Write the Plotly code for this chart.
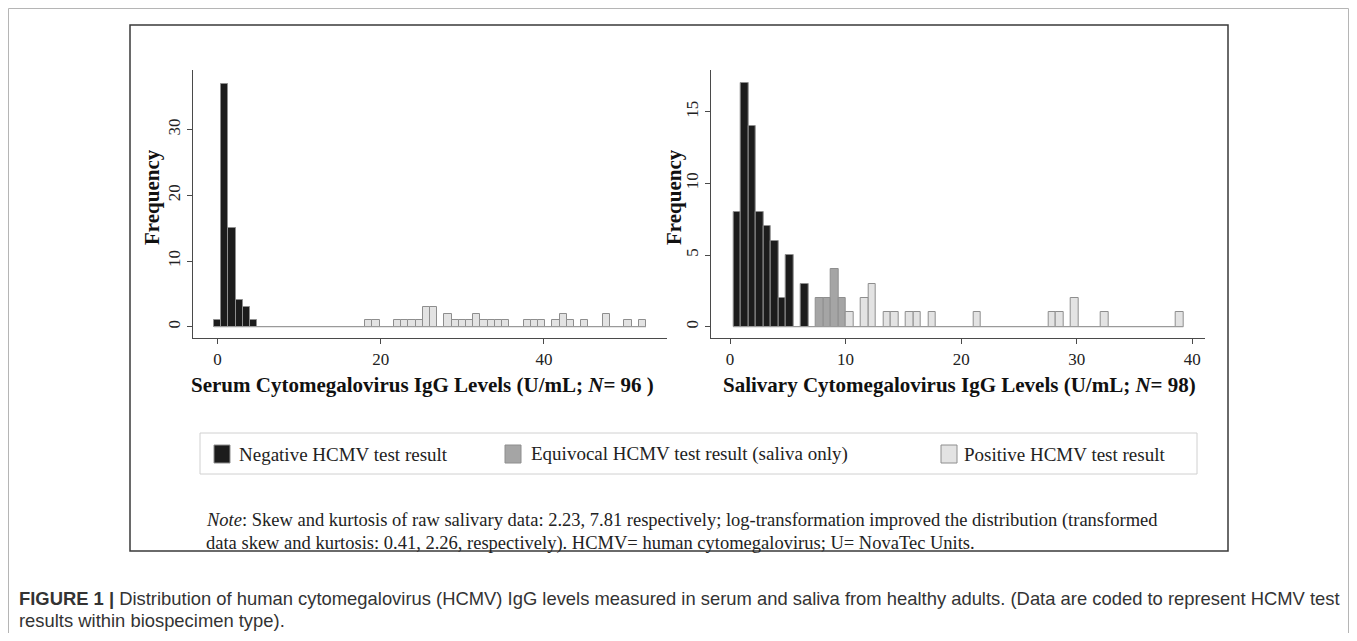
import plotly.graph_objects as go

# page is 1357x641; the plot div sits inside the default 8px body margin
PAGE_OFF = 8
W, H = 1357 - 2 * PAGE_OFF, 641 - 2 * PAGE_OFF

# ---------------- data ----------------
serum_bin_start = -0.43
serum_bin_width = 0.882
serum_counts = [1, 37, 15, 4, 3, 1, 0, 0, 0, 0,
                0, 0, 0, 0, 0, 0, 0, 0, 0, 0,
                0, 1, 1, 0, 0, 1, 1, 1, 1, 3,
                3, 0, 2, 1, 1, 1, 2, 1, 1, 1,
                1, 0, 0, 1, 1, 1, 0, 1, 2, 1,
                0, 1, 0, 0, 2, 0, 0, 1, 0, 1]
serum_result = ["Negative"] * 21 + ["Positive"] * 39

saliva_bin_start = 0.285
saliva_bin_width = 0.649
saliva_counts = [8, 17, 14, 8, 7, 6, 2, 5, 0, 3,
                 0, 2, 2, 4, 2, 1, 0, 2, 3, 0,
                 1, 1, 0, 1, 1, 0, 1, 0, 0, 0,
                 0, 0, 1, 0, 0, 0, 0, 0, 0, 0,
                 0, 0, 1, 1, 0, 2, 0, 0, 0, 1,
                 0, 0, 0, 0, 0, 0, 0, 0, 0, 1]
saliva_result = ["Negative"] * 11 + ["Equivocal"] * 4 + ["Positive"] * 45

result_colors = {"Negative": "#1c1c1c", "Equivocal": "#a5a5a5", "Positive": "#e3e3e3"}
legend_labels = {"Negative": "Negative HCMV test result",
                 "Equivocal": "Equivocal HCMV test result (saliva only)",
                 "Positive": "Positive HCMV test result"}

serum_xticks = [0, 20, 40]
saliva_xticks = [0, 10, 20, 30, 40]
serum_yticks = [0, 10, 20, 30]
saliva_yticks = [0, 5, 10, 15]

serum_title = "Serum Cytomegalovirus IgG Levels (U/mL; <i>N</i>= 96 )"
saliva_title = "Salivary Cytomegalovirus IgG Levels (U/mL; <i>N</i>= 98)"
note_lines = ["<i>Note</i>: Skew and kurtosis of raw salivary data: 2.23, 7.81 respectively; "
              "log-transformation improved the distribution (transformed",
              "data skew and kurtosis: 0.41, 2.26, respectively). HCMV= human cytomegalovirus; "
              "U= NovaTec Units."]
caption_lines = ["<b>FIGURE 1 |</b> Distribution of human cytomegalovirus (HCMV) IgG levels measured in "
                 "serum and saliva from healthy adults. (Data are coded to represent HCMV test",
                 "results within biospecimen type)."]

# ---------------- helpers ----------------
def px(x):
    return (x - PAGE_OFF) / W

def py(y):
    return 1 - (y - PAGE_OFF) / H

SERIF = "Liberation Serif, Times New Roman, serif"
SANS = "Liberation Sans, Arial, sans-serif"

fig = go.Figure()


def add_hist(counts, results, start, width, xa, ya):
    n = len(counts)
    fig.add_trace(go.Scatter(x=[start, start + n * width], y=[0, 0], mode="lines",
                             line=dict(color="#9a9a9a", width=1.3), xaxis=xa, yaxis=ya,
                             showlegend=False, hoverinfo="skip"))
    for cat in ["Negative", "Equivocal", "Positive"]:
        xs, ys = [], []
        for i, (c, r) in enumerate(zip(counts, results)):
            if r == cat and c > 0:
                xs.append(start + i * width)
                ys.append(c)
        if not xs:
            continue
        fig.add_trace(go.Bar(x=xs, y=ys, width=width, offset=0,
                             marker=dict(color=result_colors[cat],
                                         line=dict(color="#8e8e8e", width=1)),
                             xaxis=xa, yaxis=ya, showlegend=False, name=legend_labels[cat]))


add_hist(serum_counts, serum_result, serum_bin_start, serum_bin_width, "x", "y")
add_hist(saliva_counts, saliva_result, saliva_bin_start, saliva_bin_width, "x2", "y2")

axis_common = dict(showline=True, linecolor="#4a4a4a", linewidth=1.3, ticks="outside",
                   ticklen=5, tickwidth=1, tickcolor="#4a4a4a", showgrid=False, zeroline=False,
                   tickfont=dict(family=SERIF, size=17, color="#222"), fixedrange=True)

y_top, y_bot = py(70), py(338)

fig.update_layout(
    width=W, height=H, margin=dict(l=0, r=0, t=0, b=0),
    paper_bgcolor="white", plot_bgcolor="white", bargap=0, showlegend=False,
    xaxis=dict(domain=[px(193), px(667)], range=[-3.0, 55.07], tickvals=serum_xticks,
               anchor="y", **axis_common),
    yaxis=dict(domain=[y_bot, y_top], range=[-1.72, 39.07], tickvals=serum_yticks,
               tickangle=-90, anchor="x", **axis_common),
    xaxis2=dict(domain=[px(710.7), px(1205)], range=[-1.67, 41.1], tickvals=saliva_xticks,
                anchor="y2", **axis_common),
    yaxis2=dict(domain=[y_bot, y_top], range=[-0.79, 17.91], tickvals=saliva_yticks,
                tickangle=-90, anchor="x2", **axis_common),
)

shapes = []
# outer page frame
shapes.append(dict(type="rect", xref="paper", yref="paper", x0=px(8.5), x1=px(1348.5),
                   y0=-0.05, y1=py(8.5), line=dict(color="#b5b5b5", width=1)))
# inner figure box
shapes.append(dict(type="rect", xref="paper", yref="paper", x0=px(130), x1=px(1228),
                   y0=py(551), y1=py(25), line=dict(color="#3a3a3a", width=1.5)))
# legend box
shapes.append(dict(type="rect", xref="paper", yref="paper", x0=px(200), x1=px(1197),
                   y0=py(474), y1=py(433), line=dict(color="#d0d0d0", width=1)))

annotations = []
legend_pos = [("Negative", 214, 237), ("Equivocal", 505, 529), ("Positive", 941, 962)]
for cat, sx, tx in legend_pos:
    shapes.append(dict(type="rect", xref="paper", yref="paper", x0=px(sx), x1=px(sx + 16),
                       y0=py(463), y1=py(445), fillcolor=result_colors[cat],
                       line=dict(color="#8e8e8e", width=1)))
    annotations.append(dict(text=legend_labels[cat], x=px(tx), y=py(454), xref="paper",
                            yref="paper", xanchor="left", yanchor="middle", showarrow=False,
                            font=dict(family=SERIF, size=19, color="#222")))

# axis titles
for xc in (152, 674):
    annotations.append(dict(text="<b>Frequency</b>", x=px(xc), y=py(197), xref="paper",
                            yref="paper", xanchor="center", yanchor="middle", textangle=-90,
                            showarrow=False, font=dict(family=SERIF, size=21, color="#111")))
annotations.append(dict(text="<b>" + serum_title + "</b>", x=px(422), y=py(385), xref="paper",
                        yref="paper", xanchor="center", yanchor="middle", showarrow=False,
                        font=dict(family=SERIF, size=21, color="#111")))
annotations.append(dict(text="<b>" + saliva_title + "</b>", x=px(959), y=py(385), xref="paper",
                        yref="paper", xanchor="center", yanchor="middle", showarrow=False,
                        font=dict(family=SERIF, size=21, color="#111")))
# note
for line, yy in zip(note_lines, (520, 543)):
    annotations.append(dict(text=line, x=px(204), y=py(yy), xref="paper", yref="paper",
                            xanchor="left", yanchor="middle", align="left", showarrow=False,
                            font=dict(family=SERIF, size=18.5, color="#222")))
# caption
for line, yy in zip(caption_lines, (598, 620)):
    annotations.append(dict(text=line, x=px(17), y=py(yy), xref="paper", yref="paper",
                            xanchor="left", yanchor="middle", align="left", showarrow=False,
                            font=dict(family=SANS, size=18.4, color="#333")))

fig.update_layout(shapes=shapes, annotations=annotations)
fig.write_html("out.html")
